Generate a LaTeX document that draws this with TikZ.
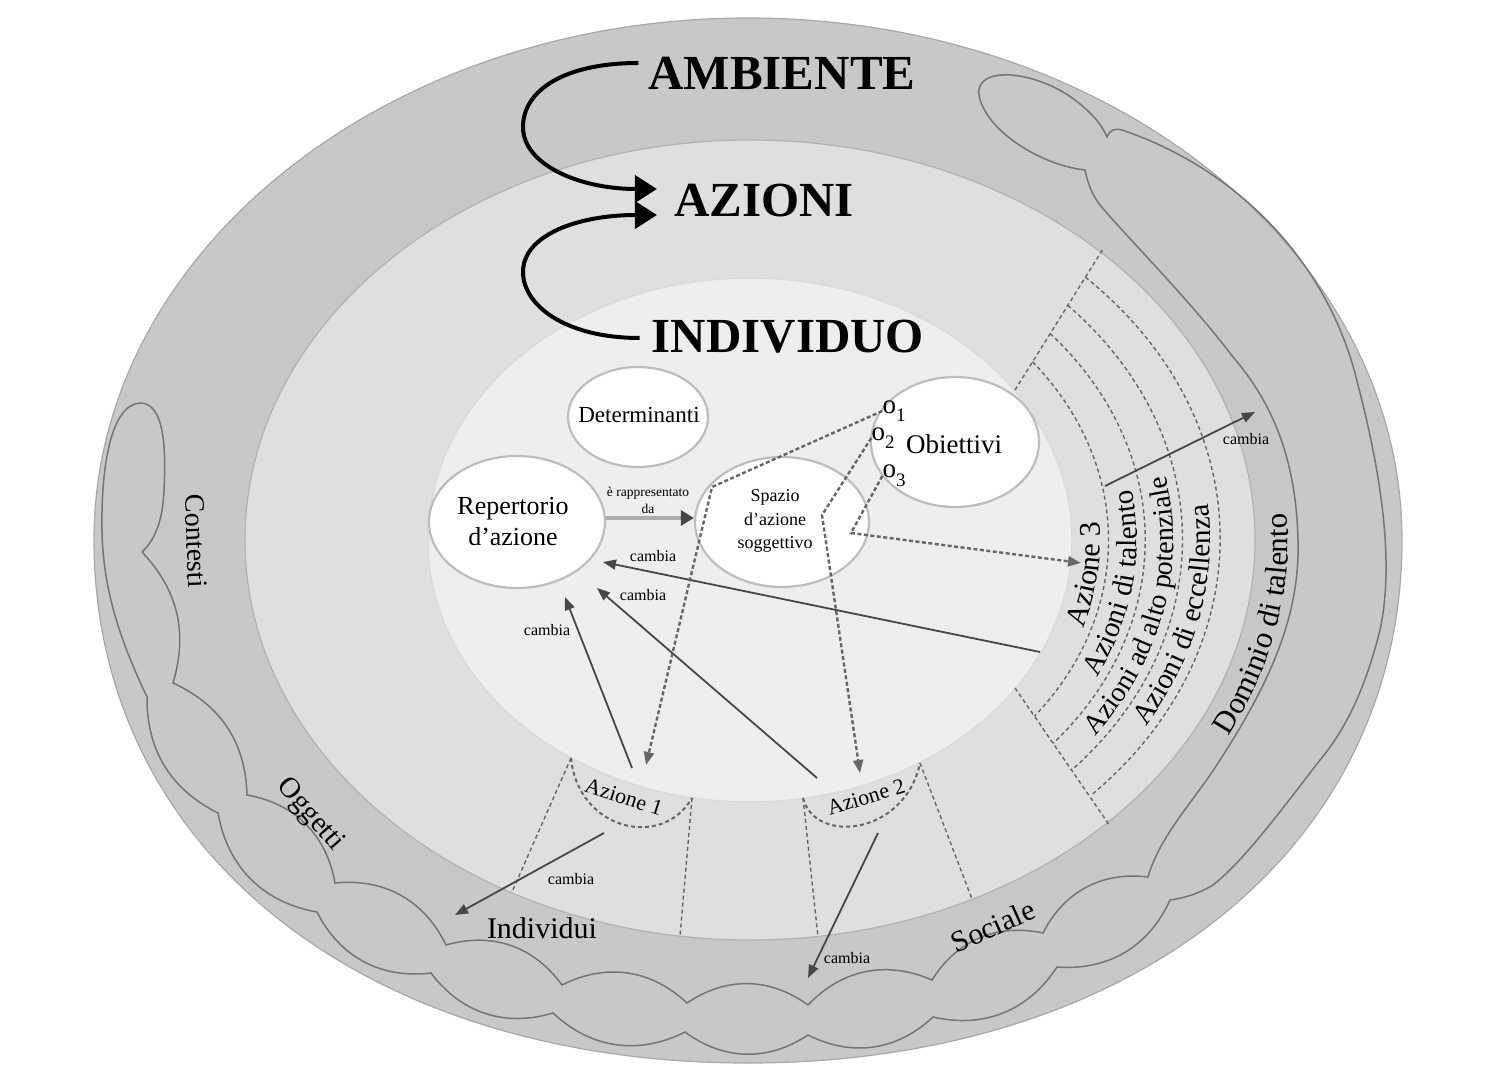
\documentclass[tikz,border=0pt]{standalone}
\usepackage{fontspec}
\setmainfont{Liberation Serif}
\usetikzlibrary{arrows.meta,shapes.geometric,calc,decorations.text}
\definecolor{bandgray}{gray}{0.785}
\definecolor{ringgray}{gray}{0.875}
\definecolor{indgray}{gray}{0.935}
\definecolor{edgegray}{gray}{0.66}
\definecolor{ringedge}{gray}{0.70}
\definecolor{cloudline}{gray}{0.46}
\definecolor{dashcol}{gray}{0.40}
\definecolor{arrcol}{gray}{0.28}
\definecolor{ellborder}{gray}{0.74}
\newcommand{\fs}[1]{\fontsize{#1}{#1}\selectfont}
\newcommand{\osub}[1]{o\raisebox{-0.32em}{\fontsize{19}{19}\selectfont #1}}
% egg shape: options, cx, cy, rx, ry top, ry bottom, bottom kappa
\newcommand{\eggshape}[7]{%
 \path[#1] ({#2+#4},#3) .. controls ({#2+#4},{#3+#7*#6}) and ({#2+#7*#4},{#3+#6}) .. (#2,{#3+#6})
 .. controls ({#2-#7*#4},{#3+#6}) and ({#2-#4},{#3+#7*#6}) .. ({#2-#4},#3)
 .. controls ({#2-#4},{#3-0.5523*#5}) and ({#2-0.5523*#4},{#3-#5}) .. (#2,{#3-#5})
 .. controls ({#2+0.5523*#4},{#3-#5}) and ({#2+#4},{#3-0.5523*#5}) .. ({#2+#4},#3) -- cycle;}
\begin{document}
\begin{tikzpicture}[x=1pt,y=-1pt,
  wellipse/.style={ellipse, draw=ellborder, line width=2.2pt, fill=white, inner sep=0pt},
  lbl/.style={inner sep=0pt, align=center, text=black},
  chg/.style={draw=arrcol, line width=1.8pt, -{Triangle[length=13pt,width=10pt]}},
  dsh/.style={draw=dashcol, line width=2.4pt, dash pattern=on 4pt off 2.5pt, -{Triangle[length=13pt,width=10pt]}},
  dline/.style={draw=dashcol, line width=1.4pt, dash pattern=on 4pt off 3pt},
  bigarr/.style={draw=black, line width=4pt, -{Triangle[length=22pt,width=27pt]}},
  repr/.style={draw=gray!65, line width=4.5pt, -{Triangle[length=13pt,width=15pt,color=arrcol]}},
  cloud/.style={draw=cloudline, line width=1.5pt},
  curvtext/.style={decorate, decoration={text along path, text align=center, text={#1}}}
]
\useasboundingbox (0,0) rectangle (1492,1083);
\fill[white] (0,0) rectangle (1492,1083);

% outer environment shape
\eggshape{fill=bandgray, draw=edgegray, line width=1.2pt}{748}{540}{654}{522}{523}{0.59}

% chain of clouds (contexts, objects, individuals, social)
\draw[cloud]
  (142,552) to[bend left=30] (173,683) to[bend left=32] (247,795) to[bend left=35] (335,883)
  to[bend left=35] (446,945) to[bend left=35] (562,985) to[bend left=35] (687,1003)
  to[bend left=35] (808,1005) to[bend left=35] (932,980) to[bend left=35] (1043,933)
  to[bend left=35] (1148,877)
  .. controls (1160,835) and (1195,800) .. (1220,760)
  .. controls (1275,675) and (1300,610) .. (1298,540)
  .. controls (1296,455) and (1270,400) .. (1233,357)
  .. controls (1190,300) and (1122,232) .. (1100,205)
  .. controls (1093,196) and (1088,185) .. (1085,170)
  .. controls (1040,165) and (985,130) .. (979,95)
  .. controls (975,65) and (1035,70) .. (1075,100)
  .. controls (1092,113) and (1102,125) .. (1107,137)
  .. controls (1110,130) and (1114,128) .. (1122,130)
  .. controls (1240,170) and (1330,265) .. (1358,385)
  .. controls (1380,470) and (1395,560) .. (1380,630)
  .. controls (1365,690) and (1345,730) .. (1320,760)
  .. controls (1285,805) and (1245,860) .. (1213,885)
  .. controls (1200,893) and (1185,898) .. (1170,900)
  to[bend left=35] (1057,967) to[bend left=35] (933,1017) to[bend left=35] (808,1035)
  to[bend left=35] (685,1032) to[bend left=35] (553,1013) to[bend left=35] (431,973)
  to[bend left=35] (317,912) to[bend left=35] (218,813) to[bend left=32] (147,697)
  .. controls (120,640) and (103,590) .. (102,530)
  .. controls (101,470) and (110,405) .. (140,403)
  .. controls (165,403) and (166,450) .. (164,490)
  .. controls (163,520) and (155,540) .. (142,552);

% actions ring and individual
\draw[fill=ringgray, draw=ringedge, line width=1.2pt] (750,540) ellipse [x radius=505, y radius=400];
\draw[fill=indgray, draw=gray!28, line width=1.5pt] (750,540) ellipse [x radius=322, y radius=262];

% radial dashed separators
\draw[dline] (571,758) -- (512,892);
\draw[dline] (692,798) -- (680,936);
\draw[dline] (803,798) -- (818,937);
\draw[dline] (920,763) -- (972,899);
\draw[dline] (1015,390) -- (1103,249);
\draw[dline] (1015,688) -- (1110,826);
% concentric dashed arcs of the talent sector
\draw[dline] (1032.6,361.8) arc[start angle=-37.98, end angle=37.44, x radius=358.6, y radius=289.6];
\draw[dline] (1050.2,333.6) arc[start angle=-40.58, end angle=39.88, x radius=395.2, y radius=317.2];
\draw[dline] (1067.8,305.4) arc[start angle=-42.75, end angle=41.91, x radius=431.8, y radius=344.8];
\draw[dline] (1085.4,277.2) arc[start angle=-44.58, end angle=43.62, x radius=468.4, y radius=372.4];
% action half discs
\draw[dline, line width=2pt] (571,758) .. controls (578,830) and (662,850) .. (692,798);
\draw[dline, line width=2pt] (803,798) .. controls (815,845) and (905,835) .. (920,763);

% curved labels of the talent sector
\path[curvtext={|\fs{30}|Azione 3}] (1011.6,728.5) arc[start angle=41.7, end angle=-28.3, x radius=350.4, y radius=283.4];
\path[curvtext={|\fs{29}|Azioni di talento}] (1009.9,770.4) arc[start angle=47.8, end angle=-32.2, x radius=387, y radius=311];
\path[curvtext={|\fs{28}|Azioni ad alto potenziale}] (1013.7,805) arc[start angle=51.5, end angle=-28.5, x radius=423.6, y radius=338.6];
\path[curvtext={|\fs{29}|Azioni di eccellenza}] (1035.8,827) arc[start angle=51.6, end angle=-28.4, x radius=460.2, y radius=366.2];
\path[curvtext={|\fs{31}|Dominio di talento}] (1089.3,872.1) arc[start angle=50.9, end angle=-29.1, x radius=538, y radius=428];

% white ellipses
\node[wellipse, minimum width=140pt, minimum height=100pt] (det) at (638,417) {};
\node[wellipse, minimum width=176pt, minimum height=132pt] (rep) at (517,522) {};
\node[wellipse, minimum width=174pt, minimum height=130pt] (spa) at (782,522) {};
\node[wellipse, minimum width=168pt, minimum height=130pt] (obi) at (955,442) {};

% texts
\node[lbl, font=\bfseries\fs{49}] (amb) at (782,73) {AMBIENTE};
\node[lbl, font=\bfseries\fs{49}] (azi) at (764,201) {AZIONI};
\node[lbl, font=\bfseries\fs{49}] (ind) at (788,337) {INDIVIDUO};
\node[lbl, font=\fs{23}] (dett) at (639,415) {Determinanti};
\node[lbl, font=\fontsize{26}{31}\selectfont] (rept) at (513,522) {Repertorio\\d’azione};
\node[lbl, font=\fontsize{18}{23.5}\selectfont] (spat) at (775,521) {Spazio\\d’azione\\soggettivo};
\node[lbl, font=\fs{27}, anchor=west] (obit) at (906,444) {Obiettivi};
\node[lbl, font=\fs{27}] (o1) at (894,411) {\osub{1}};
\node[lbl, font=\fs{27}] (o2) at (883,438) {\osub{2}};
\node[lbl, font=\fs{27}] (o3) at (894,476) {\osub{3}};
\node[lbl, font=\fontsize{13.5}{17}\selectfont] (rapl) at (648,500) {è rappresentato\\da};
\node[lbl, font=\fs{16}] (cb1) at (653,556) {cambia};
\node[lbl, font=\fs{16}] (cb2) at (643,595) {cambia};
\node[lbl, font=\fs{16}] (cb3) at (547,630) {cambia};
\node[lbl, font=\fs{16}] (cb4) at (571,879) {cambia};
\node[lbl, font=\fs{16}] (cb5) at (847,958) {cambia};
\node[lbl, font=\fs{16}] (cb6) at (1246,439) {cambia};
\node[lbl, font=\fs{22}, rotate=-18] (az1) at (624,797) {Azione 1};
\node[lbl, font=\fs{22}, rotate=17] (az2) at (866,797) {Azione 2};
\node[lbl, font=\fs{28}, rotate=-88] (cont) at (196,541) {Contesti};
\node[lbl, font=\fs{29}, rotate=-49] (ogg) at (310,815) {Oggetti};
\node[lbl, font=\fs{30}] (indv) at (542,928) {Individui};
\node[lbl, font=\fs{30}, rotate=24] (soc) at (993,926) {Sociale};

% big curved arrows
\draw[bigarr] ($(amb.west)+(-10,-10)$) .. controls (565,63) and (523,90) .. (523,127)
  .. controls (523,165) and (580,189) .. ($(azi.west)+(-17,-12)$);
\draw[bigarr] ($(ind.west)+(-12,1)$) .. controls (565,338) and (523,305) .. (523,272)
  .. controls (523,235) and (578,215) .. ($(azi.west)+(-17,14)$);

% representation arrow
\draw[repr] ([yshift=4pt]rep.east) -- ([yshift=4pt]spa.west);

% change arrows
\coordinate (a1up) at (632,768); \coordinate (t1) at (565,597);
\coordinate (a2up) at (817,778); \coordinate (t2) at (597,588);
\coordinate (a3l) at (1040,652); \coordinate (t3) at (603,562);
\coordinate (a1dn) at (604,833); \coordinate (t4) at (455,915);
\coordinate (a2dn) at (878,833); \coordinate (t5) at (808,978);
\coordinate (a3r) at (1105,486); \coordinate (t6) at (1255,412);
\draw[chg] (a1up) -- (t1);
\draw[chg] (a2up) -- (t2);
\draw[chg] (a3l) -- (t3);
\draw[chg] (a1dn) -- (t4);
\draw[chg] (a2dn) -- (t5);
\draw[chg] (a3r) -- (t6);

% goal arrows (dashed)
\coordinate (k1) at (712,487); \coordinate (dt1) at (646,765);
\coordinate (k2) at (822,515); \coordinate (dt2) at (860,773);
\coordinate (k3) at (851,533); \coordinate (dt3) at (1081,563);
\draw[dsh] (o1.west) -- (k1) -- (dt1);
\draw[dsh] (o2.west) -- (k2) -- (dt2);
\draw[dsh] (o3.west) -- (k3) -- (dt3);
\end{tikzpicture}
\end{document}
